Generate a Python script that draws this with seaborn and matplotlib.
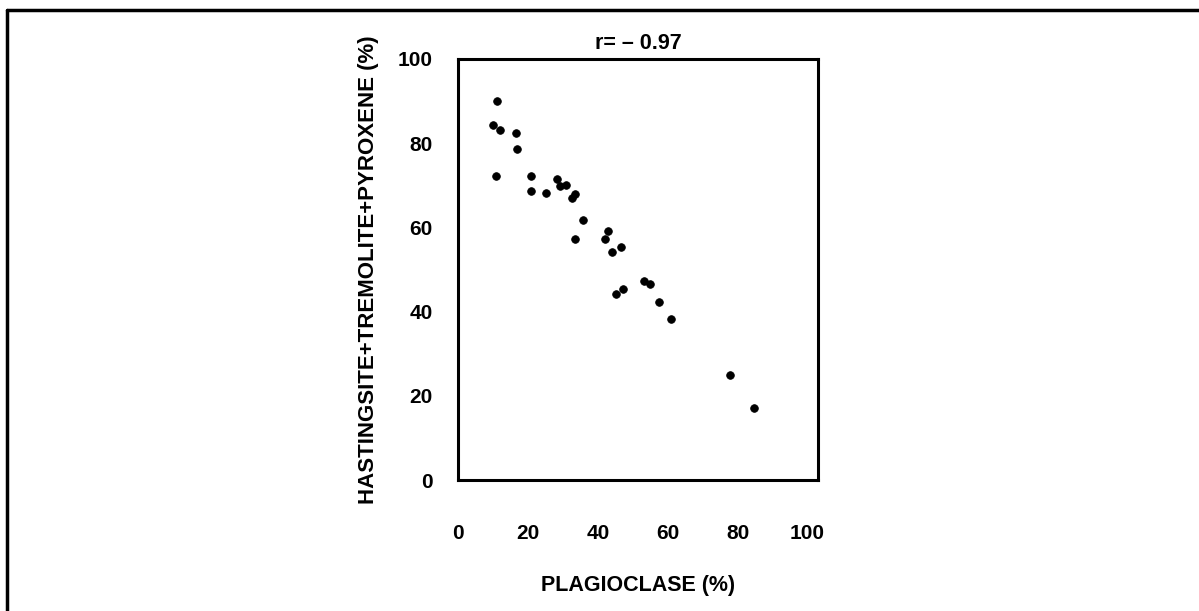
import matplotlib
matplotlib.use("Agg")
import matplotlib.pyplot as plt
import seaborn as sns
import pandas as pd
from matplotlib.lines import Line2D

plagioclase = [11.1, 9.9, 12.0, 16.6, 16.9, 10.9, 20.9, 20.9, 25.1, 28.2, 29.3, 31.0,
               32.5, 33.4, 35.8, 33.4, 42.9, 42.0, 44.2, 46.5, 45.1, 47.2, 53.3, 54.9,
               57.5, 61.0, 77.7, 84.6]
mafics = [90.1, 84.3, 83.1, 82.5, 78.6, 72.2, 72.2, 68.7, 68.1, 71.4, 69.8, 70.0,
          66.9, 67.9, 61.8, 57.3, 59.1, 57.2, 54.2, 55.4, 44.1, 45.4, 47.3, 46.6,
          42.2, 38.2, 24.9, 17.2]
ticks = [0, 20, 40, 60, 80, 100]
tick_labels = ["0", "20", "40", "60", "80", "100"]

sns.set_theme(style="white")
plt.rcParams['font.family'] = ['Liberation Sans', 'DejaVu Sans']
plt.rcParams['font.weight'] = 'bold'

W, H = 1199, 611
fig = plt.figure(figsize=(W / 100, H / 100), dpi=100)
fig.patch.set_facecolor("white")
ax = fig.add_axes([458 / W, 1 - 480 / H, (818 - 458) / W, (480 - 59) / H])

df = pd.DataFrame({"x": plagioclase, "y": mafics})
sns.scatterplot(data=df, x="x", y="y", ax=ax, color="black", s=30,
                marker="o", edgecolor="black", linewidth=0.6)

ax.set_xlim(0, 103)
ax.set_ylim(0, 100)
ax.set_xticks(ticks)
ax.set_xticklabels(tick_labels)
ax.set_yticks(ticks)
ax.set_yticklabels(tick_labels)
ax.tick_params(axis="both", length=0, labelsize=15, colors="black")
ax.tick_params(axis="x", pad=32)
ax.tick_params(axis="y", pad=18)
for lab in ax.get_xticklabels() + ax.get_yticklabels():
    lab.set_fontweight("bold")

for sp in ax.spines.values():
    sp.set_visible(True)
    sp.set_color("black")
    sp.set_linewidth(2.2)

ax.set_xlabel("PLAGIOCLASE (%)", fontsize=15.5, fontweight="bold", labelpad=23,
              color="black")
ax.set_ylabel("HASTINGSITE+TREMOLITE+PYROXENE (%)", fontsize=16, fontweight="bold",
              labelpad=14, color="black")
ax.set_title("r= \u2013 0.97", fontsize=15.5, fontweight="bold", pad=7, color="black")

# outer frame (top and left edges of the scanned figure border)
fig.add_artist(Line2D([6.5 / W, 1], [1 - 9.5 / H, 1 - 9.5 / H], transform=fig.transFigure,
                      color="black", linewidth=2.5))
fig.add_artist(Line2D([6.5 / W, 6.5 / W], [0, 1 - 9.5 / H], transform=fig.transFigure,
                      color="black", linewidth=2.5))

fig.savefig("out.png", dpi=100, facecolor="white")
